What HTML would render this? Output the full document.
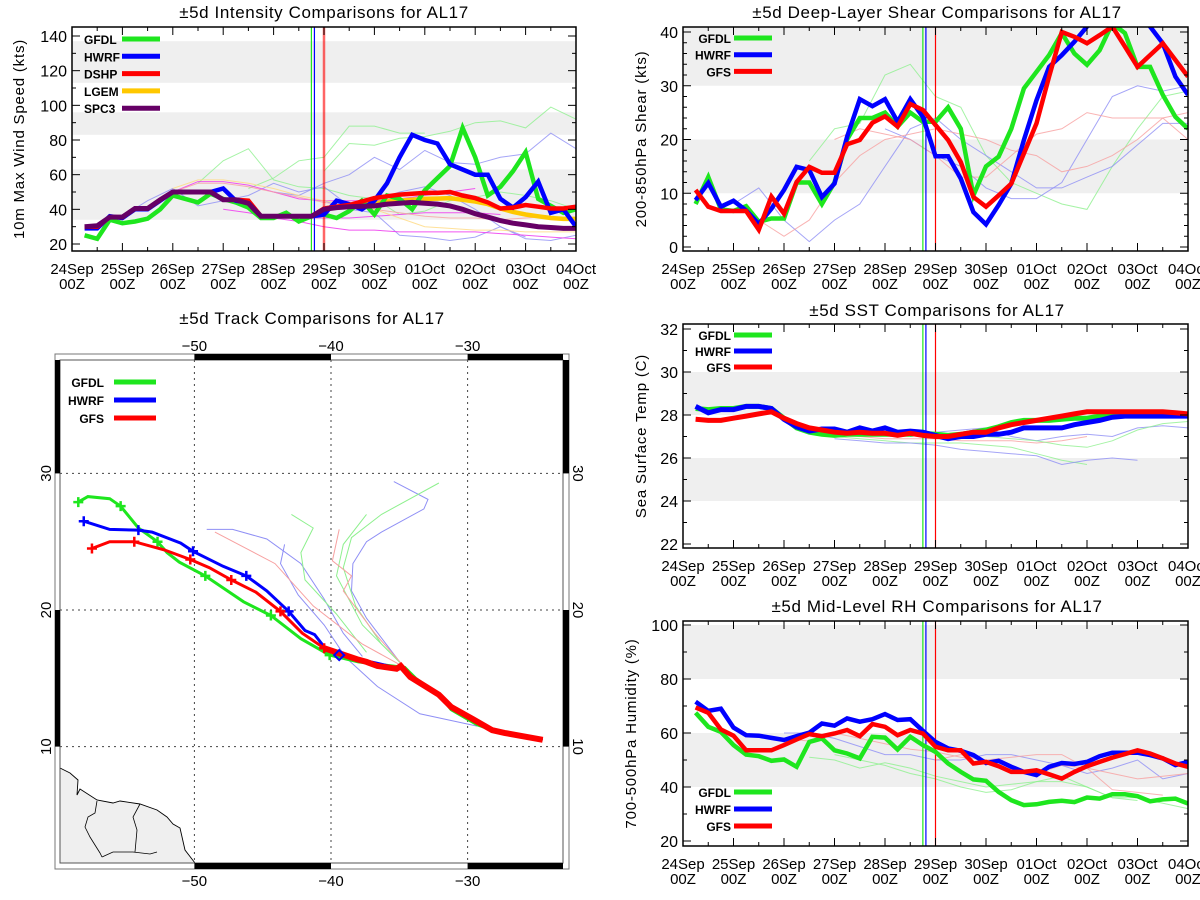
<!DOCTYPE html>
<html><head><meta charset="utf-8"><title>AL17 Comparisons</title>
<style>
html,body{margin:0;padding:0;background:#fff;}
svg{display:block;font-family:"Liberation Sans","DejaVu Sans",sans-serif;}
</style></head>
<body>
<svg id="root" width="1200" height="900" viewBox="0 0 1200 900" xmlns="http://www.w3.org/2000/svg">
<rect x="0" y="0" width="1200" height="900" fill="#fff"/>
</svg>
<script>
// ===== Data: time axis (days since 24Sep 00Z, main series every 6h from 0.25) =====
const dayLabels = ["24Sep","25Sep","26Sep","27Sep","28Sep","29Sep","30Sep","01Oct","02Oct","03Oct","04Oct"];
const hourLabel = "00Z";
const seriesStart = 0.25;
const seriesStep = 0.25;
const thinStep = 0.5;
const initDayModel = 4.78;
const initDayObs = 5.0;

// Intensity (kts)
const intenTicks = [20,40,60,80,100,120,140];
const intenBands = [[34,63],[83,96],[113,137]];
const intenGFDL = [25,23,34,32,33,34.6,40,48,46,44,49,46,44,41,35,35,38,33,36,37,35,39,45,37,48,46,40,51,58,65,87,70,48,53,62,73,46,42,38,40];
const intenHWRF = [29,29,36,35,40,40,45,50,50,50,50,52,45,44,36,36,36,36,36,37,45,43,40,45,55,70,83,80,78,66,63,60,60,46,41,47,56,38,40,30];
const intenDSHP = [30,30,35.5,35.5,40.5,40.5,45.5,50,50,50,50,45.5,45.5,45,36,36,36,36,36,40.5,41.5,42.5,44.5,46.5,47.5,48.5,49,49.5,49.5,50,48,46.5,44,40.5,41,42.5,41.5,40.5,40.5,41.5];
const intenLGEMStart = 5.0;
const intenLGEM = [40.5,41.5,42.5,43,43.5,44.5,45,45.5,46,46.2,46.5,45.5,44.5,43,40.5,38.5,37,36,35,34.5,34.5];
const intenSPC3 = [30,30.5,35.5,35.5,40.5,40.5,45.5,50,50,50,50,45.5,45.5,43.5,36,36,36,36,36,40,41,41.5,41.8,42,43,43.5,44,43.5,43,42,40,37.5,35.5,33.5,32,31,30,29.5,29,29];
const intenThinStarts = [2.5,3.5,5.0,1.0,4.0,5.0,2.0,3.0,4.5,2.0,2.0];
const intenThinVals = [
 [55,68,75,57,53,52,48,46,37,39,45,47,50,48,45,40],
 [52,58,68,70,88,88,84,84],
 [62,78,77,81,82,85,90,91,87,99,92],
 [36,45,52,42,45,48,55,50,53,42,45,50,53,48,40,30,23,22,25,30,25],
 [50,48,55,60,70,63,74,67,66,70,72,84,75,82],
 [45,40,38,25,24,22,24,30,24],
 [50,56,56,54,50,46,45,45,45,46,48,50,52],
 [40,38,35,33,30,28,28,27,27,27,27,26,25,24,23],
 [35,35,35,36,37,38,38,38,37],
 [50,55,55,53,50,47,44,42,40,38,36,35,35,34,35,36],
 [52,57,57,55,52,48,45,43,40,35,30,29,28,28,27,27,27,27]
];
const intenThinColors = ["g","g","g","b","b","b","m","m","m","r","y"];

// Shear (kts)
const shearTicks = [0,10,20,30,40];
const shearBands = [[10,20],[30,45]];
const shearGFDL = [8,13,7,6.7,7.6,4.7,5.3,5.3,12,12,8,12,20,24,24,25,22.4,25,23.3,23.3,26,22,9.6,15,16.8,22,29.5,32.6,35.7,39.8,36,33.9,36.6,41.6,39.8,33.5,33.5,28.3,24.2,22];
const shearHWRF = [8.7,11.9,7.5,8.6,6.8,4.3,7.1,10.6,14.9,14.3,9.3,11.8,20.5,27.5,26.2,27.5,23.3,27.5,24.2,16.9,16.9,12.7,6.5,4.2,7.8,11.8,19.9,27.3,33.5,35.7,38.2,41,43.5,44.7,44.7,43.5,41,37.9,31.7,28.3];
const shearGFS = [10.6,7.5,6.7,6.7,6.7,3.2,9.4,6.2,12.1,14.9,13.8,13.8,19.1,19.9,23.1,24.3,22.4,26.6,25.5,22.7,19.9,15.8,9.3,7.5,9.6,11.8,17.4,23,31.7,40,39.1,37.9,39.4,41,37.3,33.5,35.7,37.9,34.8,31.7];
const shearThinStarts = [2.5,1.0,4.0,1.5,3.0];
const shearThinVals = [
 [16,22,23,32,34,28,26,17,12,10,8,7,15,22,28,29,27,25,22],
 [8,11,5,1,5,8,15,22,24,20,17,14,11,11,13,15,19,23,23,13,11,11],
 [22,20,17,15,11,9,9,12,20,28,30,29,30,18,4],
 [5,2,5,12,17,20,21,22,21,20,18,17,14,15,17,20,24,25,24,24,14],
 [20,22,21,20,17,13,13,17,21,22,25,24,24,24,20]
];
const shearThinColors = ["g","b","b","r","r"];

// SST (C)
const sstTicks = [22,24,26,28,30,32];
const sstBands = [[24,26],[28,30]];
const sstGFDL = [28.3,28.25,28.3,28.3,28.4,28.4,28.3,27.85,27.4,27.2,27.1,27.05,27.1,27.1,27.1,27.1,27.1,27.1,27.15,27.1,27.05,27.1,27.2,27.3,27.45,27.65,27.75,27.75,27.75,27.8,27.85,27.85,27.95,27.95,28.05,28.0,28.05,28.05,28.05,28.0];
const sstHWRF = [28.4,28.1,28.25,28.25,28.4,28.4,28.3,27.8,27.45,27.25,27.35,27.35,27.2,27.4,27.25,27.4,27.2,27.25,27.2,27.05,26.9,27.0,27.0,27.1,27.1,27.2,27.4,27.4,27.4,27.4,27.55,27.65,27.75,27.9,27.95,27.95,27.95,27.95,27.95,27.95];
const sstGFS = [27.8,27.75,27.75,27.85,27.95,28.05,28.15,27.85,27.6,27.4,27.3,27.2,27.15,27.2,27.15,27.15,27.05,27.15,27.05,27.0,27.0,27.1,27.2,27.2,27.4,27.55,27.65,27.75,27.85,27.95,28.05,28.15,28.15,28.15,28.15,28.15,28.15,28.15,28.1,28.05];
const sstThinStarts = [2.5,3.0,4.5,3.0,5.0];
const sstThinVals = [
 [27.2,27.0,26.9,26.8,26.7,26.7,26.7,26.6,26.5,26.2,25.9,25.7],
 [26.9,26.8,26.7,26.7,26.6,26.4,26.3,26.2,26.1,25.7,25.9,26.0,25.9],
 [27.0,27.2,27.3,27.4,27.0,26.8,27.0,27.1,27.0,27.4,27.5,27.4],
 [27.1,27.0,26.9,26.9,26.9,26.8,26.8,26.8,26.7,26.8,27.0],
 [26.9,26.9,27.0,26.9,26.8,26.6,26.5,26.8,27.3,27.6,27.7]
];
const sstThinColors = ["g","b","b","r","g"];

// RH (%)
const rhTicks = [20,40,60,80,100];
const rhBands = [[40,60],[80,100]];
const rhGFDL = [67.5,62.3,60.4,55.5,52,51.4,49.7,50.2,47.5,56.7,58,53.6,52.4,50.6,58.6,58.3,53.9,58.6,55.5,53,48.7,45.6,42.8,42.3,38.2,35.1,33.3,33.6,34.5,34.9,34.4,36.1,35.7,37.3,37.3,36.6,34.7,35.4,35.7,33.9];
const rhHWRF = [71.6,68.2,69,62,59.2,59,58.2,57.4,58.8,60.1,63.5,62.7,65.4,64.2,65.1,67,64.8,65.1,60.8,56.7,54.3,53.4,51.8,48.9,49.7,47.5,45.6,44.4,47.5,48.9,48.5,49.3,51.4,52.7,52.7,52.7,51.8,50.6,48.1,49.3];
const rhGFS = [69.5,67.5,61.3,59,53.6,53.6,53.6,55.5,57.6,59.6,58.8,59.8,61.1,58.8,63.3,62.3,59.2,61.1,59.8,54.9,53.6,53.6,48.7,49.3,47.7,45.6,45.6,46.2,44.7,43.1,45.6,47.7,49.3,50.9,52.2,53.6,52.4,50.6,48.7,47.5];
const rhThinStarts = [2.5,3.0,2.0,2.0,5.0];
const rhThinVals = [
 [51,50,47,49,47,44,42,40,41,42,42,40,36,36,34,32,30,30,31],
 [52,50,48,45,43,40,38,39,42,44,40,36,35],
 [60,60,58,55,52,52,50,50,52,52,50,48,45,47,50,43,45,47],
 [58,57,60,58,56,54,53,51,50,51,52,52,47,39,38,37],
 [50,52,50,46,45,48,47,45,43,44,45]
];
const rhThinColors = ["g","g","b","r","r"];

// Track (lon, lat)
const lonTicks = [-50,-40,-30];
const latTicks = [10,20,30];
const trackGFDLLon = [-58.5,-57.8,-56.2,-55.4,-54.1,-52.7,-52.0,-51.1,-49.2,-46.4,-44.4,-42.2,-40.1,-38.0,-34.6,-33.8,-32.0,-31.2,-29.3,-27.9,-24.5];
const trackGFDLLat = [27.9,28.3,28.15,27.6,26.0,25.0,24.2,23.5,22.5,20.6,19.6,17.9,16.7,16.2,15.8,15.0,13.7,12.7,11.6,11.1,10.5];
const trackHWRFLon = [-58.1,-56.2,-54.1,-53.1,-51.0,-50.1,-47.9,-46.2,-44.7,-43.1,-41.9,-41.2,-40.5,-39.4,-38.0,-36.6,-35.0,-34.9,-34.2,-32.1,-31.2,-29.6,-28.2,-27.3,-24.5];
const trackHWRFLat = [26.5,25.9,25.85,25.7,24.9,24.3,23.2,22.5,21.4,19.9,18.5,18.2,17.3,16.7,16.4,16.1,15.7,15.9,15.1,13.8,12.9,11.9,11.3,11.0,10.5];
const trackGFSLon = [-57.5,-56.2,-54.4,-52.2,-50.3,-48.9,-47.3,-45.5,-43.7,-42.1,-40.5,-39.9,-38.1,-37.4,-36.6,-35.2,-34.9,-34.2,-32.1,-31.2,-29.6,-28.2,-27.3,-24.5];
const trackGFSLat = [24.5,25.0,25.0,24.4,23.7,23.1,22.2,21.3,19.9,18.3,17.2,17.0,16.4,16.2,15.9,15.7,15.9,15.1,13.8,12.9,12.0,11.2,11.0,10.5];
const markGFDLLon = [-58.5,-55.4,-52.7,-49.2,-44.4,-40.1];
const markGFDLLat = [27.9,27.6,25.0,22.5,19.6,16.7];
const markHWRFLon = [-58.1,-54.1,-50.1,-46.2,-43.1];
const markHWRFLat = [26.5,25.85,24.3,22.5,19.9];
const markGFSLon = [-57.5,-54.4,-50.3,-47.3,-43.7,-40.5];
const markGFSLat = [24.5,25.0,23.7,22.2,19.9,17.2];
const thinTrackLons = [
 [-35.4,-32.9,-33.2,-36.3,-37.4,-38.4,-38.5,-37.4,-34.9],
 [-49.1,-47.2,-44.7,-42.2,-40.5,-39.1,-37.7],
 [-43.4,-43.7,-42.4,-40.5,-38.9,-36.6,-33.5,-29.3],
 [-32.1,-36.3,-38.5,-39.1,-38.2,-36.3,-34.6],
 [-42.9,-41.3,-42.2,-41.9,-39.6,-37.4],
 [-37.4,-39.1,-39.6,-37.7,-34.6],
 [-48.5,-44.1,-41.3,-37.7,-34.6],
 [-39.4,-39.9,-38.5,-39.1,-36.8,-34.6]
];
const thinTrackLats = [
 [29.4,28.1,27.4,25.7,25.0,23.4,21.4,19.4,16.1],
 [25.9,25.9,25.2,23.4,20.8,18.3,16.6],
 [24.8,23.4,21.1,18.9,16.5,14.4,12.4,11.5],
 [29.3,27.0,25.3,23.1,20.3,17.5,15.8],
 [27.0,26.0,24.2,22.2,19.7,16.9],
 [27.0,24.8,22.5,18.9,15.8],
 [25.7,23.4,20.3,17.5,15.8],
 [25.9,23.6,22.5,21.4,18.3,15.8]
];
const thinTrackColors = ["b","b","b","g","g","g","r","r"];

// ===== Rendering =====
const NS = "http://www.w3.org/2000/svg";
const root = document.getElementById("root");
const COL = {g:"#1ee61e", b:"#0000ff", r:"#ff0000", y:"#ffc800", p:"#660066", m:"#ff33ff"};
const LIGHT = {g:"#8ef08e", b:"#8f8ff5", r:"#f7a0a0", y:"#ffd980", m:"#ee44ee", p:"#aa66aa"};

function el(tag, attrs, parent){
  const e = document.createElementNS(NS, tag);
  for (const k in attrs) e.setAttribute(k, attrs[k]);
  (parent || root).appendChild(e);
  return e;
}
function txt(parent, x, y, s, size, anchor, extra){
  const t = el("text", Object.assign({x:x, y:y, "font-size":size, "text-anchor":anchor || "middle", fill:"#000"}, extra || {}), parent);
  t.textContent = s;
  return t;
}

function timePanel(cfg){
  const g = el("g", {});
  
  
  const bx = cfg.bx, by = cfg.by, bw = cfg.bw, bh = cfg.bh;
  const xs = d => bx + d * bw / 10;
  const ys = cfg.ys;
  const cid = "clip-" + cfg.name;
  const cp = el("clipPath", {id: cid}, g);
  el("rect", {x:bx, y:by, width:bw, height:bh}, cp);

  const bandG = el("g", {"clip-path":"url(#"+cid+")"}, g);
  
  
  cfg.bands.forEach(b => {
    const r = el("rect", {x:bx, y:ys(b[1]), width:bw, height:ys(b[0]) - ys(b[1]), fill:"#efefef"}, bandG);
    
    
  });

  const thinG = el("g", {"clip-path":"url(#"+cid+")", fill:"none"}, g);
  
  
  cfg.thinVals.forEach((vals, i) => {
    const pts = vals.map((v, j) => xs(cfg.thinStarts[i] + j * thinStep).toFixed(1) + "," + ys(v).toFixed(1)).join(" ");
    const c = cfg.thinColors[i];
    const pl = el("polyline", {points:pts, stroke:LIGHT[c], "stroke-width":1, opacity:(c === "m" ? 0.9 : 0.8)}, thinG);
    
    
  });

  const vl = [[initDayModel - 0.03, COL.g, cfg.name+'-init-line-gfdl'],[initDayModel + 0.03, COL.b, cfg.name+'-init-line-hwrf'],[initDayObs, COL.r, cfg.name+'-init-line-obs']];
  vl.forEach(v => {
    const isIntRed = (cfg.name === "intensity" && v[1] === COL.r);
    const ln = el("line", {x1:xs(v[0]), x2:xs(v[0]), y1:by, y2:by+bh, stroke:v[1], "stroke-width":isIntRed ? 2.5 : 1.2, opacity:isIntRed ? 0.6 : 1}, g);
    
    
  });

  const mainG = el("g", {"clip-path":"url(#"+cid+")", fill:"none", "stroke-linejoin":"miter"}, g);
  
  
  cfg.series.forEach(s => {
    const st = s.start !== undefined ? s.start : seriesStart;
    const pts = s.vals.map((v, j) => xs(st + j * seriesStep).toFixed(1) + "," + ys(v).toFixed(1)).join(" ");
    const pl = el("polyline", {points:pts, stroke:s.color, "stroke-width":s.w || 4.5}, mainG);
    
    
  });

  const fr = el("rect", {x:bx, y:by, width:bw, height:bh, fill:"none", stroke:"#000", "stroke-width":1.5}, g);
  
  

  const xt = el("g", {stroke:"#000", "stroke-width":1}, g);
  
  
  for (let d = 0; d <= 10; d += 0.5){
    const L = (d % 1 === 0) ? 8 : 4;
    el("line", {x1:xs(d), x2:xs(d), y1:by+bh, y2:by+bh-L}, xt);
    el("line", {x1:xs(d), x2:xs(d), y1:by, y2:by+L}, xt);
  }
  dayLabels.forEach((lab, i) => {
    const t1 = txt(g, xs(i), by+bh+23, lab, 15);
    
    
    const t2 = txt(g, xs(i), by+bh+38, hourLabel, 15);
    
    
  });

  const yt = el("g", {stroke:"#000", "stroke-width":1}, g);
  
  
  const t0 = cfg.ticks[0], tN = cfg.ticks[cfg.ticks.length-1];
  const step = cfg.ticks[1] - cfg.ticks[0];
  for (let v = t0; v <= tN + 1e-6; v += step / cfg.minor){
    const major = Math.abs(((v - t0) / step) - Math.round((v - t0) / step)) < 1e-6;
    const L = major ? 8 : 4;
    el("line", {x1:bx, x2:bx+L, y1:ys(v), y2:ys(v)}, yt);
    el("line", {x1:bx+bw, x2:bx+bw-L, y1:ys(v), y2:ys(v)}, yt);
  }
  cfg.ticks.forEach(v => {
    const t = txt(g, bx-5, ys(v)+6, String(v), 16, "end");
    
    
  });

  const tt = txt(g, cfg.titleX, cfg.titleY, cfg.title, 17, "middle", {"letter-spacing":"0.6"});
  
  
  const ay = txt(g, 0, 0, cfg.ylabel, 15, "middle", {transform:"translate(" + cfg.ylabX + "," + (by + bh/2) + ") rotate(-90)", "letter-spacing":"0.8"});
  
  

  const lg = el("g", {}, g);
  
  
  cfg.legend.forEach((it, i) => {
    const y = cfg.legY + i * cfg.legDy;
    const e = el("g", {}, lg);
    
    
    el("line", {x1:cfg.legX1, x2:cfg.legX2, y1:y, y2:y, stroke:it[1], "stroke-width":5}, e);
    txt(e, cfg.legTextX, y+5, it[0], 12, cfg.legAnchor || "start", {"font-weight":"bold"});
  });
}

timePanel({
  name:"intensity", bx:72, by:27, bw:504, bh:224,
  ys: v => 244 - (v - 20) * 1.7333,
  ticks:intenTicks, minor:2, bands:intenBands,
  thinStarts:intenThinStarts, thinVals:intenThinVals, thinColors:intenThinColors,
  series:[
    {name:"lgem-line", vals:intenLGEM, start:intenLGEMStart, color:COL.y},
    {name:"gfdl-line", vals:intenGFDL, color:COL.g},
    {name:"hwrf-line", vals:intenHWRF, color:COL.b},
    {name:"dshp-line", vals:intenDSHP, color:COL.r},
    {name:"spc3-line", vals:intenSPC3, color:COL.p, w:5}
  ],
  title:"±5d Intensity Comparisons for AL17", titleX:324, titleY:18,
  ylabel:"10m Max Wind Speed (kts)", ylabX:24,
  legend:[["GFDL",COL.g],["HWRF",COL.b],["DSHP",COL.r],["LGEM",COL.y],["SPC3",COL.p]],
  legX1:122, legX2:160, legY:39, legDy:17.3, legTextX:84
});
timePanel({
  name:"shear", bx:683, by:27, bw:505, bh:224,
  ys: v => 247 - v * 5.375,
  ticks:shearTicks, minor:5, bands:shearBands,
  thinStarts:shearThinStarts, thinVals:shearThinVals, thinColors:shearThinColors,
  series:[
    {name:"gfdl-line", vals:shearGFDL, color:COL.g},
    {name:"hwrf-line", vals:shearHWRF, color:COL.b},
    {name:"gfs-line", vals:shearGFS, color:COL.r}
  ],
  title:"±5d Deep-Layer Shear Comparisons for AL17", titleX:937, titleY:18,
  ylabel:"200-850hPa Shear (kts)", ylabX:646,
  legend:[["GFDL",COL.g],["HWRF",COL.b],["GFS",COL.r]],
  legX1:734, legX2:772, legY:38, legDy:16.7, legTextX:731, legAnchor:"end"
});
timePanel({
  name:"sst", bx:683, by:324, bw:505, bh:224,
  ys: v => 544 - (v - 22) * 21.5,
  ticks:sstTicks, minor:2, bands:sstBands,
  thinStarts:sstThinStarts, thinVals:sstThinVals, thinColors:sstThinColors,
  series:[
    {name:"gfdl-line", vals:sstGFDL, color:COL.g, w:5},
    {name:"hwrf-line", vals:sstHWRF, color:COL.b, w:5},
    {name:"gfs-line", vals:sstGFS, color:COL.r, w:5}
  ],
  title:"±5d SST Comparisons for AL17", titleX:937, titleY:316,
  ylabel:"Sea Surface Temp (C)", ylabX:646,
  legend:[["GFDL",COL.g],["HWRF",COL.b],["GFS",COL.r]],
  legX1:734, legX2:772, legY:335, legDy:16, legTextX:731, legAnchor:"end"
});
timePanel({
  name:"rh", bx:683, by:621, bw:505, bh:225,
  ys: v => 841 - (v - 20) * 2.7,
  ticks:rhTicks, minor:2, bands:rhBands,
  thinStarts:rhThinStarts, thinVals:rhThinVals, thinColors:rhThinColors,
  series:[
    {name:"gfdl-line", vals:rhGFDL, color:COL.g},
    {name:"hwrf-line", vals:rhHWRF, color:COL.b},
    {name:"gfs-line", vals:rhGFS, color:COL.r}
  ],
  title:"±5d Mid-Level RH Comparisons for AL17", titleX:937, titleY:612,
  ylabel:"700-500hPa Humidity (%)", ylabX:636,
  legend:[["GFDL",COL.g],["HWRF",COL.b],["GFS",COL.r]],
  legX1:734, legX2:772, legY:792, legDy:17, legTextX:731, legAnchor:"end"
});

// ===== Track map =====
(function(){
  const g = el("g", {});
  
  
  const ix0 = 60, ix1 = 563, iy0 = 360, iy1 = 863;
  const ox0 = 55, ox1 = 569, oy0 = 354, oy1 = 869;
  const mx = lon => 331 + (lon + 40) * 13.66;
  const my = lat => 610 - (lat - 20) * 13.66;
  const cp = el("clipPath", {id:"clip-map"}, g);
  el("rect", {x:ix0, y:iy0, width:ix1-ix0, height:iy1-iy0}, cp);

  const tt = txt(g, 312, 324, "±5d Track Comparisons for AL17", 17, "middle", {"letter-spacing":"0.6"});
  
  

  const land = el("polygon", {points:"60,768 70,773 78,780 77,795 80,789 97,800 113,803 120,801 140,804 157,810 167,817 173,824 180,828 185,850 195,863 60,863", fill:"#efefef", stroke:"#000", "stroke-width":0.9}, g);
  
  
  const borders = el("path", {d:"M97,801 L95,813 L88,817 L85,827 L90,837 L100,853 L102,857 M140,804 L133,817 L137,830 L135,852 M102,857 L113,852 L133,852 L150,854 L157,852", fill:"none", stroke:"#000", "stroke-width":0.8}, g);
  
  

  const grid = el("g", {stroke:"#444", "stroke-width":1, "stroke-dasharray":"2,4"}, g);
  
  
  lonTicks.forEach(l => el("line", {x1:mx(l), x2:mx(l), y1:iy0, y2:iy1}, grid));
  latTicks.forEach(l => el("line", {x1:ix0, x2:ix1, y1:my(l), y2:my(l)}, grid));

  const thinG = el("g", {"clip-path":"url(#clip-map)", fill:"none"}, g);
  
  
  thinTrackLons.forEach((lons, i) => {
    const pts = lons.map((l, j) => mx(l).toFixed(1) + "," + my(thinTrackLats[i][j]).toFixed(1)).join(" ");
    const pl = el("polyline", {points:pts, stroke:LIGHT[thinTrackColors[i]], "stroke-width":1}, thinG);
    
    
  });

  const tr = [
    ["gfdl-track", trackGFDLLon, trackGFDLLat, COL.g, markGFDLLon, markGFDLLat, 3],
    ["hwrf-track", trackHWRFLon, trackHWRFLat, COL.b, markHWRFLon, markHWRFLat, 3],
    ["gfs-track", trackGFSLon, trackGFSLat, COL.r, markGFSLon, markGFSLat, 3]
  ];
  tr.forEach(t => {
    const pts = t[1].map((l, j) => mx(l).toFixed(1) + "," + my(t[2][j]).toFixed(1)).join(" ");
    const pl = el("polyline", {points:pts, stroke:t[3], "stroke-width":t[6], fill:"none", "clip-path":"url(#clip-map)"}, g);
    
    
    t[4].forEach((l, j) => {
      const x = mx(l), y = my(t[5][j]);
      const m = el("path", {d:"M"+(x-5)+","+y+" H"+(x+5)+" M"+x+","+(y-5)+" V"+(y+5), stroke:t[3], "stroke-width":2.5}, g);
      
      
    });
  });
  const eastStart = 10;
  const ePts = trackGFSLon.slice(eastStart).map((l, j) => mx(l).toFixed(1) + "," + my(trackGFSLat[eastStart + j]).toFixed(1)).join(" ");
  const eLine = el("polyline", {points:ePts, stroke:COL.r, "stroke-width":6, fill:"none"}, g);
  
  
  const dia = el("path", {d:"M"+(mx(-39.4)-5)+","+my(16.7)+" l5,-5 l5,5 l-5,5 z", fill:"none", stroke:COL.b, "stroke-width":2}, g);
  
  

  const fr = el("g", {}, g);
  
  
  el("rect", {x:ox0, y:oy0, width:ox1-ox0, height:oy1-oy0, fill:"none", stroke:"#777", "stroke-width":1}, fr);
  el("rect", {x:ix0, y:iy0, width:ix1-ix0, height:iy1-iy0, fill:"none", stroke:"#555", "stroke-width":1}, fr);
  [[mx(-50), mx(-40)], [mx(-30), ix1]].forEach(s => {
    el("rect", {x:s[0], y:oy0, width:s[1]-s[0], height:iy0-oy0, fill:"#000"}, fr);
    el("rect", {x:s[0], y:iy1, width:s[1]-s[0], height:oy1-iy1, fill:"#000"}, fr);
  });
  [[iy0, my(30)], [my(20), my(10)]].forEach(s => {
    el("rect", {x:ox0, y:s[0], width:ix0-ox0, height:s[1]-s[0], fill:"#000"}, fr);
    el("rect", {x:ix1, y:s[0], width:ox1-ix1, height:s[1]-s[0], fill:"#000"}, fr);
  });

  lonTicks.forEach(l => {
    const a = txt(g, mx(l), 351, "\u2212" + Math.abs(l), 15);
    
    
    const b = txt(g, mx(l), 886, "\u2212" + Math.abs(l), 15);
    
    
  });
  latTicks.forEach(l => {
    const a = txt(g, 0, 0, String(l), 15, "middle", {transform:"translate(51," + my(l) + ") rotate(-90)"});
    
    
    const b = txt(g, 0, 0, String(l), 15, "middle", {transform:"translate(573," + my(l) + ") rotate(90)"});
    
    
  });

  const lg = el("g", {}, g);
  
  
  [["GFDL",COL.g],["HWRF",COL.b],["GFS",COL.r]].forEach((it, i) => {
    const y = 382 + i * 18;
    const e = el("g", {}, lg);
    
    
    el("line", {x1:114, x2:156, y1:y, y2:y, stroke:it[1], "stroke-width":5}, e);
    txt(e, 104, y+5, it[0], 12, "end", {"font-weight":"bold"});
  });
})();
</script>
</body></html>
